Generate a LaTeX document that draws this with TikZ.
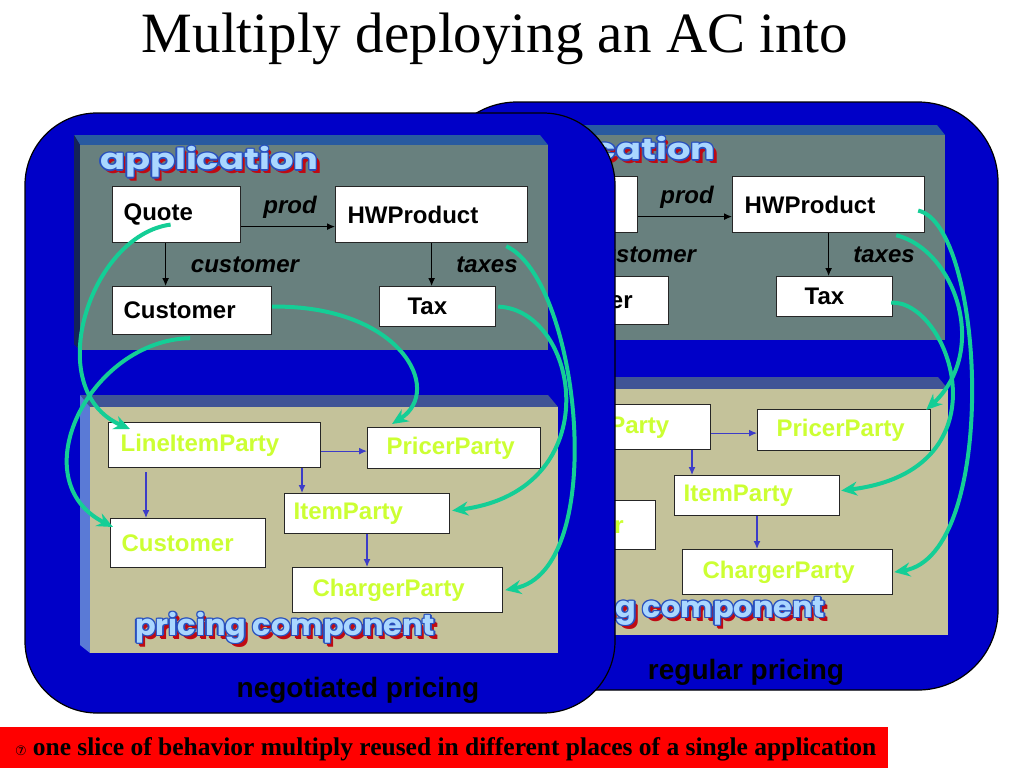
\documentclass[tikz,border=0pt]{standalone}
\usepackage{fontspec}
\newfontfamily\arialf{Liberation Sans}
\newfontfamily\serift{Liberation Serif}
\newfontfamily\fancyf{Poppins}
\newfontfamily\symf{DejaVu Sans}
\usetikzlibrary{arrows.meta,calc}
\definecolor{panelblue}{RGB}{0,0,200}
\definecolor{appgrey}{RGB}{104,128,126}
\definecolor{appbevtop}{RGB}{40,90,160}
\definecolor{appbevleft}{RGB}{20,35,90}
\definecolor{pctan}{RGB}{196,194,154}
\definecolor{pcbevtop}{RGB}{64,84,150}
\definecolor{pcbevleft}{RGB}{90,122,214}
\definecolor{limegreen}{RGB}{204,255,51}
\definecolor{linkgreen}{RGB}{20,206,150}
\definecolor{arrowblue}{RGB}{60,60,200}
\definecolor{shadowred}{RGB}{190,10,20}
\definecolor{outlineblue}{RGB}{40,80,190}
\definecolor{fillblue}{RGB}{170,215,255}
\definecolor{barred}{RGB}{255,0,0}
\tikzset{
 panel/.style={fill=panelblue, draw=black, line width=1.2pt, rounded corners=72pt},
 box/.style={draw=black!85, line width=1.2pt, fill=white, anchor=north west, inner sep=0pt, align=left},
 apptext/.style={font=\arialf\bfseries\fontsize{24}{26}\selectfont, text=black},
 pctext/.style={font=\arialf\bfseries\fontsize{24}{26}\selectfont, text=limegreen},
 rolelbl/.style={font=\arialf\bfseries\itshape\fontsize{24}{26}\selectfont, text=black, inner sep=0pt},
 blk/.style={draw=black, line width=1.2pt, -{Latex[length=8pt,width=7pt]}},
 blu/.style={draw=arrowblue, line width=1.2pt, -{Latex[length=8pt,width=7pt]}},
 grn/.style={draw=linkgreen, line width=4pt, -{Stealth[length=16pt,width=14pt]}},
 fancy/.style={font=\fancyf\bfseries\fontsize{29}{32}\selectfont, anchor=west, inner sep=0pt},
 pricelbl/.style={font=\arialf\bfseries\fontsize{28}{30}\selectfont, text=black},
}
\newcommand\mybox[8]{%
 \pgfmathsetmacro\tw{#4-2*#6}%
 \node[box,#7,minimum width=#4pt,minimum height=#5pt,text width=\tw pt] (#1) at (#2,#3) {#8};}
% #1 name, #2 position, #3 horizontal stretch, #4 text
\newcommand\fancytext[4]{%
 \node[fancy,text=shadowred] at ($#2+(2.5,3)$) {\scalebox{#3}[1]{#4}};
 \node[fancy,text=shadowred] at ($#2+(3.5,3.5)$) {\scalebox{#3}[1]{#4}};
 \foreach \dx/\dy in {-1.3/0,1.3/0,0/-1.3,0/1.3,-1/-1,1/1,-1/1,1/-1}
  {\node[fancy,text=outlineblue] at ($#2+(\dx,\dy)$) {\scalebox{#3}[1]{#4}};}
 \node[fancy,text=fillblue] (#1) at #2 {\scalebox{#3}[1]{#4}};}
\newcommand\appcontent[1]{%
 \fill[appbevtop] (74,135) -- (540,135) -- (548,145) -- (80,145) -- cycle;
 \fill[appbevleft] (74,135) -- (80,145) -- (80,350) -- (74,344) -- cycle;
 \fill[appgrey] (80,145) rectangle (548,350);
 \fancytext{#1-apptitle}{(100,162)}{1.27}{application}
 \mybox{#1-quote}{112}{186}{128}{56}{11}{apptext}{Quote}
 \mybox{#1-hw}{335}{186}{192}{56}{12}{apptext}{HWProduct}
 \mybox{#1-cust}{112}{286}{159}{48}{11}{apptext}{Customer}
 \mybox{#1-tax}{379}{286}{116}{40}{28}{apptext}{Tax}
 \node[rolelbl] (#1-prod) at (290,207) {prod};
 \node[rolelbl] (#1-customer) at (245,265) {customer};
 \node[rolelbl] (#1-taxes) at (487,265) {taxes};
 \draw[blk] ($(#1-quote.east)+(0,12)$) -- ($(#1-hw.west)+(0,12)$);
 \path ($(#1-quote.south)+(-11,0)$) coordinate (#1-qa);
 \draw[blk] (#1-qa) -- (#1-qa |- #1-cust.north);
 \draw[blk] (#1-hw.south) -- (#1-hw.south |- #1-tax.north);
}
\newcommand\pccontent[1]{%
 \fill[pcbevtop] (80,395) -- (548,395) -- (558,407) -- (90,407) -- cycle;
 \fill[pcbevleft] (80,395) -- (90,407) -- (90,653) -- (80,645) -- cycle;
 \fill[pctan] (90,407) rectangle (558,653);
 \fancytext{#1-pctitle}{(135,628)}{1.05}{pricing component}
 \mybox{#1-lip}{108}{422}{212}{45}{12}{pctext}{LineItemParty}
 \mybox{#1-pricer}{367}{427}{173}{41}{19}{pctext}{PricerParty}
 \mybox{#1-item}{284}{493}{165}{40}{9}{pctext}{ItemParty}
 \mybox{#1-cust2}{110}{518}{155}{49}{11}{pctext}{Customer}
 \mybox{#1-charger}{292}{567}{210}{45}{20}{pctext}{ChargerParty}
 \path ($(#1-lip.east)+(0,6)$) coordinate (#1-la);
 \draw[blu] (#1-la) -- (#1-la -| #1-pricer.west);
 \path ($(#1-lip.south west)+(38,4)$) coordinate (#1-lb);
 \draw[blu] (#1-lb) -- (#1-lb |- #1-cust2.north);
 \path ($(#1-lip.south west)+(194,0)$) coordinate (#1-lc);
 \draw[blu] (#1-lc) -- (#1-lc |- #1-item.north);
 \path ($(#1-item.south west)+(83,0)$) coordinate (#1-ld);
 \draw[blu] (#1-ld) -- (#1-ld |- #1-charger.north);
}
\begin{document}
\begin{tikzpicture}[x=1pt,y=-1pt]
\useasboundingbox (0,0) rectangle (1024,768);
\fill[white] (0,0) rectangle (1024,768);
\node[font=\serift\fontsize{57}{60}\selectfont] (title) at (495,39) {Multiply deploying an AC into};
% back panel: regular pricing
\draw[panel,rounded corners=80pt] (437,102) rectangle (998,690);
\begin{scope}[shift={(397,-10)}]
 \appcontent{b}
\end{scope}
\begin{scope}[shift={(390,-18)}]
 \pccontent{b}
\end{scope}
\node[pricelbl] (b-label) at (746,672) {regular pricing};
\draw[grn] ($(b-hw.east)+(-7,6)$) .. controls (985,225) and (1000,555) .. ($(b-charger.east)+(1,0)$);
\draw[grn] ($(b-hw.south east)+(-29,2)$) .. controls (955,250) and (990,350) .. ($(b-pricer.north east)+(-5,1)$);
\draw[grn] ($(b-tax.east)+(-2,6)$) .. controls (950,300) and (1010,470) .. ($(b-item.east)+(1,-5)$);
% front panel: negotiated pricing
\draw[panel] (25,113) rectangle (615,713);
\appcontent{f}
\pccontent{f}
\node[pricelbl] (f-label) at (358,690) {negotiated pricing};
\draw[grn] ($(f-quote.center)+(-6,10)$) .. controls (90,235) and (40,390) .. ($(f-lip.north west)+(22,7)$);
\draw[grn] ($(f-cust.south)+(-2,3)$) .. controls (90,340) and (20,480) .. ($(f-cust2.north west)+(3,9)$);
\draw[grn] ($(f-cust.east)+(0,-4)$) .. controls (400,305) and (445,390) .. ($(f-pricer.north west)+(25,-3)$);
\draw[grn] ($(f-tax.east)+(2,0)$) .. controls (580,310) and (610,490) .. ($(f-item.east)+(2,-3)$);
\draw[grn] ($(f-hw.south east)+(-22,3)$) .. controls (580,280) and (610,570) .. ($(f-charger.east)+(2,0)$);
% bottom bar
\fill[barred] (0,727) rectangle (888,768);
\node[anchor=west, inner sep=0pt, font=\serift\bfseries\fontsize{25.5}{27}\selectfont] (note) at (15,749)
 {{\symf\mdseries\fontsize{13}{14}\selectfont ⑦}\hspace{6pt}one slice of behavior multiply reused in different places of a single application};
\end{tikzpicture}
\end{document}
